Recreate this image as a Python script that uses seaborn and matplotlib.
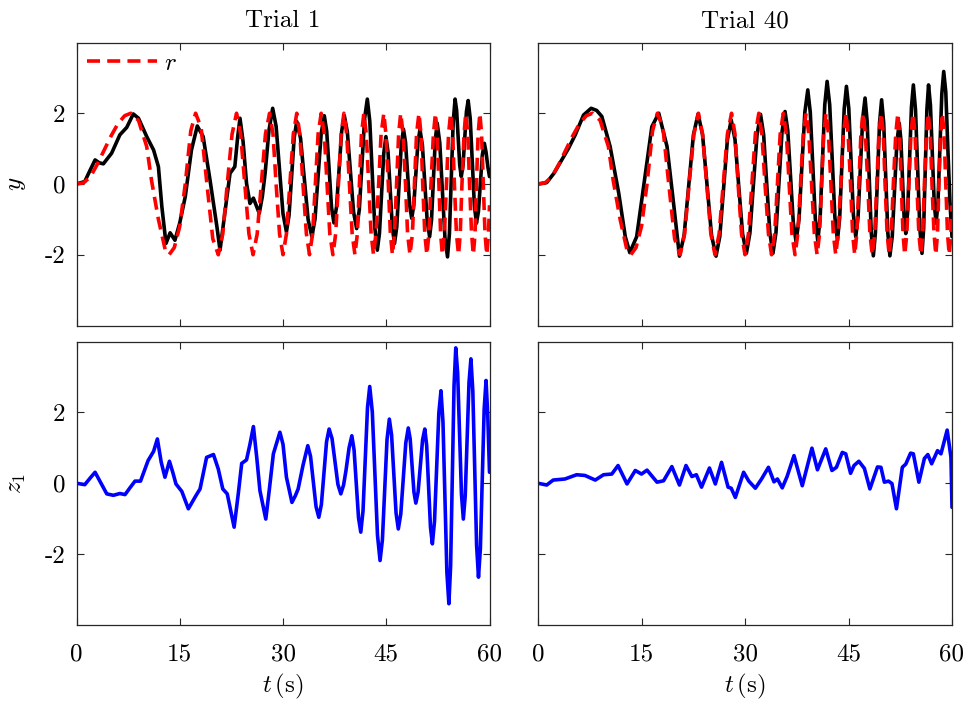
import numpy as np
import pandas as pd
import seaborn as sns
import matplotlib
matplotlib.use("Agg")
import matplotlib.pyplot as plt

# ---------------- data ----------------
titles = ["Trial 1", "Trial 40"]
x_ticks = [0, 15, 30, 45, 60]
y_ticks = [-2, 0, 2]
y_tick_labels = ["-2", "0", "2"]

# reference r (same in both trials)
r_t = [0, 1, 2, 3, 4, 5, 6, 7, 7.9, 9.0, 10.2, 10.9, 11.9, 12.9, 13.45,
       14.2, 15.0, 15.8, 16.6, 17.3, 18.1, 18.95, 19.8, 20.6,
       21.25, 21.9, 22.6, 23.25, 23.85, 24.45, 25.05, 25.65,
       26.25, 26.85, 27.45, 28.05, 28.55, 29.0, 29.5, 30.0,
       30.5, 31.0, 31.5, 32.0, 32.45, 32.9, 33.4, 33.85,
       34.3, 34.7, 35.1, 35.55, 36.0, 36.4, 36.8, 37.25,
       37.65, 38.05, 38.45, 38.85, 39.25, 39.65, 40.05, 40.45,
       40.8, 41.1, 41.4, 41.75, 42.1, 42.45, 42.8, 43.15,
       43.5, 43.9, 44.25, 44.65, 44.95, 45.3, 45.6, 45.9,
       46.2, 46.5, 46.8, 47.1, 47.45, 47.8, 48.1, 48.45,
       48.8, 49.1, 49.4, 49.75, 50.05, 50.3, 50.6, 50.9,
       51.2, 51.5, 51.85, 52.15, 52.4, 52.65, 52.9, 53.15,
       53.45, 53.75, 54.05, 54.35, 54.65, 54.9, 55.2, 55.5,
       55.75, 56.0, 56.3, 56.55, 56.85, 57.1, 57.4, 57.65,
       57.9, 58.1, 58.35, 58.6, 58.85, 59.1, 59.35, 59.6,
       59.85, 60.0]
r_v = [0, 0.03, 0.2, 0.55, 0.95, 1.35, 1.7, 1.93, 2.0, 1.8, 1.06, 0.1, -1.0, -1.87, -2.0,
       -1.8, -1.2, 0.0, 1.5, 2.0, 1.6, 0.0, -1.55, -2.0,
       -1.41, 0, 1.41, 2, 1.41, 0, -1.41, -2,
       -1.41, 0, 1.41, 2, 1.41, 0, -1.41, -2,
       -1.41, 0, 1.41, 2, 1.41, 0, -1.41, -2,
       -1.41, 0, 1.41, 2, 1.41, 0, -1.41, -2,
       -1.41, 0, 1.41, 2, 1.41, 0, -1.41, -2,
       -1.41, 0, 1.41, 2, 1.41, 0, -1.41, -2,
       -1.41, 0, 1.41, 2, 1.41, 0, -1.41, -2,
       -1.41, 0, 1.41, 2, 1.41, 0, -1.41, -2,
       -1.41, 0, 1.41, 2, 1.41, 0, -1.41, -2,
       -1.41, 0, 1.41, 2, 1.41, 0, -1.41, -2,
       -1.41, 0, 1.41, 2, 1.41, 0, -1.41, -2,
       -1.41, 0, 1.41, 2, 1.41, 0, -1.41, -2,
       -1.41, 0, 1.41, 2, 1.41, 0, -1.41, -2,
       -1.41, -0.6]

# output y, trial 1
y1_t = [0, 1.2, 2.0, 2.7, 3.3, 3.9, 5.1, 6.3, 7.3, 8.25, 9.0, 10.2, 11.2, 11.9, 12.4,
        13.0, 13.6, 14.3, 15.0, 15.8, 16.7, 17.55, 18.4, 19.4, 20.4, 20.85, 21.5,
        22.3, 23.0, 23.4, 23.75, 24.2, 24.7, 25.2, 25.7, 26.55, 27.0, 27.4, 27.95,
        28.5, 29.0, 29.5, 30.0, 30.5, 30.875, 31.25, 31.625, 32.0, 32.55, 33.1, 33.65,
        34.2, 34.65, 35.1, 35.55, 36.0, 36.35, 36.7, 37.05, 37.4, 37.775, 38.15, 38.525,
        38.9, 39.35, 39.8, 40.25, 40.7, 41.09, 41.475, 41.86, 42.25, 42.61, 42.975, 43.34,
        43.7, 44.01, 44.325, 44.64, 44.95, 45.26, 45.575, 45.89, 46.2, 46.525, 46.85, 47.175,
        47.5, 47.8, 48.1, 48.4, 48.7, 49.0, 49.3, 49.6, 49.9, 50.25, 50.6, 50.95,
        51.3, 51.575, 51.85, 52.125, 52.4, 52.775, 53.15, 53.525, 53.9, 54.175, 54.45, 54.725,
        55.0, 55.225, 55.45, 55.675, 55.9, 56.15, 56.4, 56.65, 56.9, 57.2, 57.5, 57.8,
        58.1, 58.39, 58.675, 58.96, 59.25, 59.5, 59.75, 60.0]
y1_v = [0, 0.07, 0.4, 0.68, 0.6, 0.57, 0.87, 1.39, 1.6, 1.98, 1.86, 1.34, 0.96, 0.49, -0.64,
        -1.68, -1.38, -1.59, -1.1, -0.36, 0.96, 1.64, 1.34, 0.11, -1.21, -1.87, -0.9,
        0.30, 0.49, 1.3, 1.86, 1.2, 0.02, -0.55, -0.40, -0.83, -0.35, 0.30, 1.5,
        2.14, 1.63, 0.40, -0.84, -1.35, -0.89, 0.21, 1.31, 1.77, 1.29, 0.14, -1.01,
        -1.49, -0.99, 0.22, 1.43, 1.93, 1.49, 0.42, -0.66, -1.10, -0.65, 0.42, 1.49,
        1.94, 1.47, 0.34, -0.79, -1.26, -0.72, 0.57, 1.86, 2.40, 1.77, 0.27, -1.24,
        -1.87, -1.40, -0.27, 0.87, 1.34, 0.90, -0.17, -1.24, -1.68, -1.21, -0.07, 1.08,
        1.55, 1.18, 0.29, -0.60, -0.97, -0.60, 0.29, 1.17, 1.54, 1.10, 0.03, -1.05,
        -1.49, -1.02, 0.12, 1.25, 1.72, 1.17, -0.17, -1.51, -2.06, -1.41, 0.17, 1.75,
        2.40, 2.08, 1.31, 0.53, 0.21, 0.52, 1.29, 2.05, 2.36, 1.85, 0.63, -0.60,
        -1.11, -0.78, 0.02, 0.82, 1.15, 0.9, 0.5, 0.21]

# output y, trial 40
y40_t = [0, 1.26, 2.3, 3.44, 4.4, 5.4, 6.6, 7.7, 8.5, 9.25, 10.45, 11.7, 12.65, 13.3,
         14.3, 15.3, 16.5, 17.5, 18.7, 19.7, 20.5, 21.175, 21.85, 22.525,
         23.2, 23.85, 24.5, 25.15, 25.8, 26.35, 26.9, 27.45, 28.0, 28.55, 29.1, 29.65,
         30.2, 30.71, 31.225, 31.74, 32.25, 32.7, 33.15, 33.6, 34.05, 34.49, 34.925, 35.36,
         35.8, 36.2, 36.6, 37.0, 37.4, 37.825, 38.25, 38.675, 39.1, 39.46, 39.825, 40.19,
         40.55, 40.89, 41.225, 41.56, 41.9, 42.275, 42.65, 43.025, 43.4, 43.725, 44.05, 44.375,
         44.7, 45.04, 45.375, 45.71, 46.05, 46.39, 46.725, 47.06, 47.4, 47.7, 48.0, 48.3,
         48.6, 48.9, 49.2, 49.5, 49.8, 50.1, 50.4, 50.7, 51.0, 51.34, 51.675, 52.01,
         52.35, 52.59, 52.825, 53.06, 53.3, 53.575, 53.85, 54.125, 54.4, 54.71, 55.025, 55.34,
         55.65, 55.89, 56.125, 56.36, 56.6, 56.875, 57.15, 57.425, 57.7, 57.975, 58.25, 58.525,
         58.8, 59.1, 59.4, 59.7, 60.0]
y40_v = [0, 0.04, 0.3, 0.68, 1.0, 1.39, 1.95, 2.14, 2.08, 1.91, 1.06, -0.26, -1.49, -1.94,
         -1.49, -0.08, 1.62, 2.0, 1.06, -0.64, -2.04, -1.45, -0.03, 1.39,
         1.98, 1.39, -0.03, -1.45, -2.04, -1.48, -0.12, 1.25, 1.81, 1.26, -0.08, -1.41,
         -1.96, -1.39, 0.0, 1.39, 1.97, 1.40, 0.0, -1.38, -1.96, -1.37, 0.05, 1.46,
         2.05, 1.51, 0.21, -1.09, -1.63, -1.00, 0.52, 2.03, 2.66, 2.03, 0.53, -0.98,
         -1.61, -0.95, 0.65, 2.24, 2.90, 2.24, 0.66, -0.93, -1.59, -0.95, 0.59, 2.12,
         2.76, 2.14, 0.64, -0.87, -1.49, -0.92, 0.47, 1.86, 2.43, 1.78, 0.2, -1.38,
         -2.03, -1.38, 0.18, 1.73, 2.38, 1.73, 0.18, -1.38, -2.03, -1.48, -0.16, 1.17,
         1.72, 1.26, 0.16, -0.94, -1.40, -0.78, 0.70, 2.18, 2.80, 2.10, 0.42, -1.26,
         -1.96, -1.26, 0.42, 2.10, 2.80, 2.23, 0.85, -0.54, -1.11, -0.48, 1.04, 2.55,
         3.18, 2.6, 1.0, -0.5, -1.49]

# state z1, trial 1
z1_t = [0, 1.2, 2.0, 2.7, 3.4, 4.4, 5.35, 6.3, 7.05, 7.8, 8.5, 9.3, 10.4, 11.2, 11.75,
        12.3, 12.85, 13.5, 14.0, 14.45, 15.3, 16.25, 17.35, 17.95, 18.9, 19.9, 20.6,
        21.25, 21.9, 22.9, 23.5, 24.0, 24.7, 25.2, 25.7, 26.2, 26.65, 27.5, 28.0, 28.6,
        29.55, 30.0, 30.5, 31.3, 31.8, 32.2, 32.9, 33.6, 34.0, 34.4, 34.8, 35.2,
        35.575, 35.95, 36.325, 36.7, 37.125, 37.55, 37.975, 38.4, 38.8, 39.15, 39.6, 40.0,
        40.325, 40.65, 40.975, 41.3, 41.625, 41.95, 42.275, 42.6, 42.975, 43.35, 43.725, 44.1,
        44.44, 44.775, 45.11, 45.45, 45.775, 46.1, 46.425, 46.75, 47.11, 47.475, 47.84, 48.2,
        48.475, 48.75, 49.025, 49.3, 49.625, 49.95, 50.275, 50.6, 50.875, 51.15, 51.425, 51.7,
        52.01, 52.325, 52.64, 52.95, 53.24, 53.525, 53.81, 54.1, 54.35, 54.6, 54.85, 55.1,
        55.375, 55.65, 55.925, 56.2, 56.475, 56.75, 57.025, 57.3, 57.575, 57.85, 58.125, 58.4,
        58.675, 58.95, 59.225, 59.5, 59.75, 60.0]
z1_v = [0, -0.04, 0.15, 0.31, 0.06, -0.30, -0.34, -0.29, -0.32, -0.12, 0.06, 0.06, 0.64, 0.9, 1.25,
        0.6, 0.17, 0.62, 0.3, -0.02, -0.23, -0.72, -0.35, -0.16, 0.73, 0.81, 0.4,
        -0.16, -0.30, -1.24, -0.3, 0.56, 0.66, 1.1, 1.60, 0.7, -0.21, -1.01, -0.2, 0.83,
        1.44, 1.1, 0.17, -0.54, -0.35, -0.16, 0.5, 1.06, 0.76, 0.05, -0.66, -0.96,
        -0.60, 0.29, 1.17, 1.53, 1.26, 0.62, -0.03, -0.30, -0.05, 0.36, 1.0, 1.34,
        0.94, -0.02, -0.98, -1.38, -0.78, 0.68, 2.13, 2.73, 2.01, 0.28, -1.46, -2.18,
        -1.60, -0.19, 1.23, 1.81, 1.36, 0.26, -0.84, -1.29, -0.87, 0.14, 1.14, 1.56,
        1.25, 0.5, -0.25, -0.56, -0.25, 0.49, 1.22, 1.53, 1.06, -0.09, -1.24, -1.71,
        -1.08, 0.45, 1.98, 2.61, 1.73, -0.40, -2.52, -3.40, -2.34, 0.21, 2.76, 3.82,
        3.11, 1.41, -0.30, -1.01, -0.35, 1.25, 2.85, 3.51, 2.61, 0.43, -1.75, -2.65,
        -1.84, 0.13, 2.09, 2.90, 1.9, 0.31]

# state z1, trial 40
z40_t = [0, 1.26, 2.2, 3.9, 5.6, 6.8, 8.3, 9.5, 10.7, 11.6, 12.9, 14.1, 15.0, 15.8, 17.25,
         18.2, 19.4, 20.5, 21.45, 22.3, 22.95, 23.7, 24.85, 25.7, 26.6, 27.55, 28.0, 28.6,
         29.8, 30.55, 31.5, 32.4, 33.4, 34.2, 34.7, 35.4, 36.1, 37.1, 38.3, 39.7, 40.5,
         41.7, 42.6, 43.25, 44.1, 44.6, 45.3, 45.8, 46.5, 47.3, 48.1, 49.2, 49.7, 50.2,
         50.8, 51.3, 51.95, 52.8, 53.3, 54.0, 54.4, 55.2, 56.0, 56.5, 57.05, 57.9, 58.4,
         59.3, 59.85, 60.0]
z40_v = [0, -0.05, 0.09, 0.12, 0.24, 0.22, 0.09, 0.24, 0.26, 0.50, -0.02, 0.36, 0.26, 0.37, 0.03,
         0.07, 0.47, -0.05, 0.50, 0.19, 0.24, -0.11, 0.43, -0.02, 0.59, -0.11, -0.14, -0.40,
         0.31, 0.06, -0.14, 0.12, 0.45, 0.04, 0.12, -0.13, 0.19, 0.78, -0.07, 0.99, 0.38,
         0.97, 0.36, 0.45, 0.87, 0.83, 0.28, 0.50, 0.62, 0.42, -0.16, 0.46, 0.45, 0.03,
         0.06, -0.01, -0.72, 0.45, 0.54, 0.85, 0.83, 0.03, 0.70, 0.81, 0.55, 0.92, 0.83,
         1.50, 0.73, -0.68]

# ---------------- style ----------------
sns.set_style("ticks")
plt.rcParams["font.family"] = ["cmr10", "DejaVu Serif"]
plt.rcParams["mathtext.fontset"] = "cm"
plt.rcParams["axes.unicode_minus"] = False
plt.rcParams["axes.formatter.use_mathtext"] = True
plt.rcParams["text.color"] = "black"
plt.rcParams["axes.labelcolor"] = "black"

fig = plt.figure(figsize=(9.74, 7.04), dpi=100)
W, H = 974, 704
def box(x0, x1, y0, y1):
    return [x0 / W, 1 - y1 / H, (x1 - x0) / W, (y1 - y0) / H]

axes = [[fig.add_axes(box(76.5, 489.5, 42.5, 325.5)), fig.add_axes(box(538, 952, 42.5, 325.5))],
        [fig.add_axes(box(76.5, 489.5, 341.5, 625)), fig.add_axes(box(538, 952, 341.5, 625))]]

lw = 2.6
top_data = [(y1_t, y1_v), (y40_t, y40_v)]
bot_data = [(z1_t, z1_v), (z40_t, z40_v)]

for j in range(2):
    ax = axes[0][j]
    yt, yv = top_data[j]
    sns.lineplot(x=yt, y=yv, ax=ax, color="black", linewidth=lw, estimator=None, sort=False)
    sns.lineplot(x=r_t, y=r_v, ax=ax, color=(1, 0, 0), linewidth=lw, estimator=None, sort=False)
    ax.lines[-1].set_dashes([3.6, 2.0])
    ax.set_title(titles[j], fontsize=18, pad=11, color="black")

    ax = axes[1][j]
    zt, zv = bot_data[j]
    sns.lineplot(x=zt, y=zv, ax=ax, color=(0, 0, 1), linewidth=lw, estimator=None, sort=False)

for i in range(2):
    for j in range(2):
        ax = axes[i][j]
        ax.set_xlim(0, 60)
        ax.set_ylim(-4, 4)
        ax.set_xticks(x_ticks)
        ax.set_yticks(y_ticks)
        ax.tick_params(direction="in", top=True, right=True, length=5, width=0.8,
                       labelsize=18, colors="#262626", labelcolor="black", pad=8)
        ax.tick_params(axis="x", pad=13)
        for s in ax.spines.values():
            s.set_linewidth(0.9)
            s.set_color("#262626")
        ax.set_xlabel("")
        ax.set_ylabel("")
        if j == 0:
            ax.set_yticklabels(y_tick_labels)
        else:
            ax.set_yticklabels([])
        if i == 0:
            ax.set_xticklabels([])
        else:
            ax.set_xticklabels([str(v) for v in x_ticks])
            ax.set_xlabel(r"$t\,(\mathrm{s})$", fontsize=18, labelpad=5)

axes[0][0].set_ylabel(r"$y$", fontsize=18, labelpad=12)
axes[1][0].set_ylabel(r"$z_1$", fontsize=18, labelpad=12)

red_line = axes[0][0].lines[-1]
axes[0][0].legend(handles=[red_line], labels=[r"$r$"], loc="upper left", frameon=False,
                  fontsize=18, handlelength=2.8, borderaxespad=0.1, borderpad=0.3,
                  handletextpad=0.3)

fig.savefig("out.png", dpi=100)
